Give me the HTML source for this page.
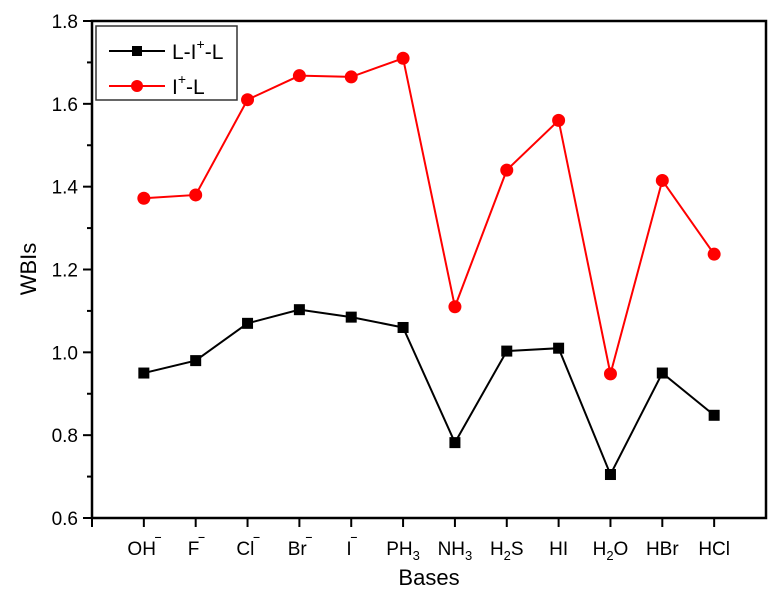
<!DOCTYPE html>
<html><head><meta charset="utf-8"><style>
body{margin:0;background:#fff;}
svg{display:block;font-family:"Liberation Sans",sans-serif;}
</style></head><body>
<svg id="c" width="784" height="595"></svg>
<script>
const categories=["OH","F","Cl","Br","I","PH3","NH3","H2S","HI","H2O","HBr","HCl"];
const seriesLIL=[0.95,0.98,1.07,1.103,1.085,1.06,0.782,1.003,1.01,0.705,0.95,0.848];
const seriesIL=[1.372,1.38,1.61,1.668,1.665,1.71,1.11,1.44,1.56,0.948,1.415,1.237];
const yTicks=[0.6,0.8,1.0,1.2,1.4,1.6,1.8];
const labelHTML=[["OH","sup","‾"],["F","sup","‾"],["Cl","sup","‾"],["Br","sup","‾"],["I","sup","‾"],["PH","sub","3"],["NH","sub","3"],["H","sub","2","S"],["HI"],["H","sub","2","O"],["HBr"],["HCl"]];
const NS="http://www.w3.org/2000/svg";
const svg=document.getElementById('c');
const L=92,R=766,T=21,B=518;
const x=i=>L+(R-L)/13*(i+1);
const y=v=>B-(v-0.6)/1.2*(B-T);
function mk(t,a,p){const e=document.createElementNS(NS,t);for(const k in a)e.setAttribute(k,a[k]);(p||svg).appendChild(e);return e;}
const frame=mk('rect',{x:L,y:T,width:R-L,height:B-T,fill:'none',stroke:'#000','stroke-width':2.5});


yTicks.forEach((v,i)=>{
 const tk=mk('line',{x1:L-9,x2:L,y1:y(v),y2:y(v),stroke:'#000','stroke-width':2});
 
 
 if(i<yTicks.length-1){const m=mk('line',{x1:L-5,x2:L,y1:y(v+0.1),y2:y(v+0.1),stroke:'#000','stroke-width':2});
 
 }
 const t=mk('text',{x:L-14,y:y(v)+7,'text-anchor':'end','font-size':19});
 t.textContent=v.toFixed(1);
 
 
});
const t0=mk('line',{x1:L,x2:L,y1:B,y2:B+9,stroke:'#000','stroke-width':2});


categories.forEach((c,i)=>{
 const tk=mk('line',{x1:x(i),x2:x(i),y1:B,y2:B+9,stroke:'#000','stroke-width':2});
 
 
 const t=mk('text',{x:x(i),y:555,'text-anchor':'middle','font-size':19});
 const p=labelHTML[i];
 const s1=mk('tspan',{},t);s1.textContent=p[0];
 if(p.length>1){
  const s2=mk('tspan',{'font-size':13,dy:p[1]=='sup'?-8:5,'font-weight':p[1]=='sup'?'bold':'normal'},t);s2.textContent=p[2];
  if(p[3]){const s3=mk('tspan',{dy:-5},t);s3.textContent=p[3];}
 }
 
 
});
function series(vals,color,shape,name){
 const pl=mk('polyline',{points:vals.map((v,i)=>x(i)+','+y(v)).join(' '),fill:'none',stroke:color,'stroke-width':2});
 
 
 vals.forEach((v,i)=>{
  let m;
  if(shape=='sq')m=mk('rect',{x:x(i)-5.5,y:y(v)-5.5,width:11,height:11,fill:color});
  else m=mk('circle',{cx:x(i),cy:y(v),r:6.5,fill:color});
  
  
 });
}
series(seriesLIL,'#000','sq','lil');
series(seriesIL,'#ff0000','ci','il');
const lg=mk('g',{});


mk('rect',{x:96,y:26,width:141,height:74,fill:'#fff',stroke:'#333','stroke-width':1.5},lg);
mk('line',{x1:109,x2:165,y1:51,y2:51,stroke:'#000','stroke-width':2},lg);
mk('rect',{x:132,y:46,width:10,height:10,fill:'#000'},lg);
mk('line',{x1:109,x2:165,y1:86,y2:86,stroke:'#f00','stroke-width':2},lg);
mk('circle',{cx:137,cy:86,r:6,fill:'#f00'},lg);
const l1=mk('text',{x:172,y:59,'font-size':21},lg);
l1.innerHTML='L-I<tspan font-size="14" dy="-10">+</tspan><tspan dy="10">-L</tspan>';
const l2=mk('text',{x:172,y:94,'font-size':21},lg);
l2.innerHTML='I<tspan font-size="14" dy="-10">+</tspan><tspan dy="10">-L</tspan>';
const xt=mk('text',{x:429,y:585,'text-anchor':'middle','font-size':22});
xt.textContent='Bases';


const yt=mk('text',{x:36,y:269,'text-anchor':'middle','font-size':22,transform:'rotate(-90 36 269)'});
yt.textContent='WBIs';


</script>
</body></html>
